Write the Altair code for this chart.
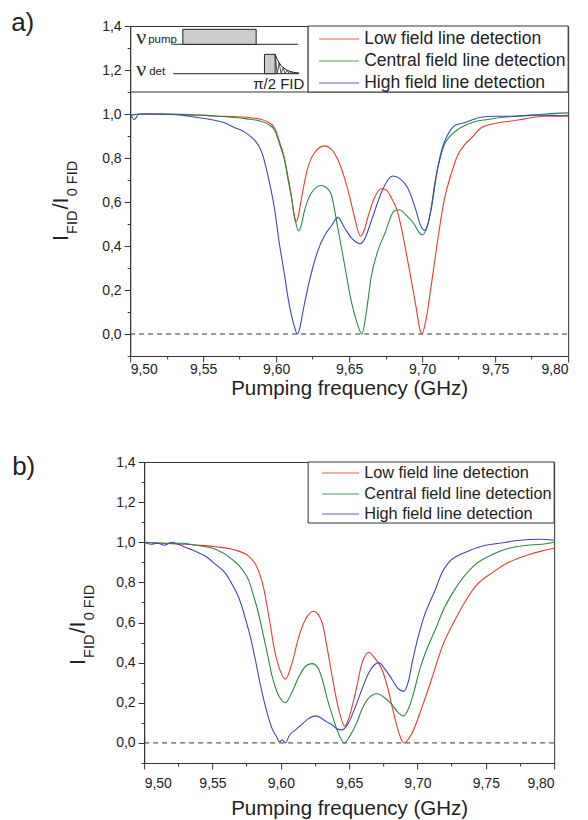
import math
import altair as alt
import pandas as pd

# ---------------- data ----------------
SERIES = ["Low field line detection", "Central field line detection", "High field line detection"]
COLORS = ["#ec3b2e", "#2b8a41", "#3b4ab3"]

X_MAJOR = [9.50, 9.55, 9.60, 9.65, 9.70, 9.75, 9.80]
X_MINOR = [9.525, 9.575, 9.625, 9.675, 9.725, 9.775]
Y_MAJOR = [0.0, 0.2, 0.4, 0.6, 0.8, 1.0, 1.2, 1.4]
Y_MINOR = [-0.1, 0.1, 0.3, 0.5, 0.7, 0.9, 1.1, 1.3]

# panel a) (frequency GHz, I_FID / I_0 FID)
A_LOW = [(9.500, 0.995), (9.510, 1.0), (9.520, 1.0), (9.530, 0.998), (9.540, 0.995), (9.550, 0.993),
         (9.560, 0.99), (9.570, 0.988), (9.580, 0.985), (9.588, 0.978), (9.594, 0.965), (9.599, 0.935),
         (9.6025, 0.87), (9.6057, 0.80), (9.6085, 0.70), (9.6105, 0.625), (9.612, 0.55), (9.6135, 0.51),
         (9.6150, 0.53), (9.617, 0.605), (9.6217, 0.756), (9.6263, 0.824), (9.633, 0.855), (9.6377, 0.84),
         (9.642, 0.795), (9.6468, 0.71), (9.6505, 0.62), (9.6537, 0.53), (9.6577, 0.445), (9.6605, 0.475),
         (9.6628, 0.53), (9.6674, 0.62), (9.672, 0.66), (9.6755, 0.655), (9.6788, 0.62), (9.683, 0.56),
         (9.6865, 0.46), (9.6902, 0.33), (9.6935, 0.21), (9.6959, 0.12), (9.6985, 0.02), (9.6998, 0.0),
         (9.7025, 0.06), (9.706, 0.21), (9.7105, 0.42), (9.715, 0.605), (9.720, 0.73), (9.7245, 0.815),
         (9.729, 0.86), (9.7336, 0.89), (9.740, 0.935), (9.745, 0.95), (9.752, 0.96), (9.761, 0.968),
         (9.770, 0.978), (9.784, 0.99), (9.792, 0.99), (9.800, 0.995)]
A_CEN = [(9.500, 0.995), (9.510, 1.0), (9.520, 1.0), (9.530, 1.0), (9.540, 0.998), (9.550, 0.995),
         (9.560, 0.99), (9.570, 0.985), (9.580, 0.978), (9.588, 0.97), (9.594, 0.955), (9.599, 0.925),
         (9.6025, 0.86), (9.6057, 0.79), (9.6085, 0.69), (9.6105, 0.62), (9.613, 0.52), (9.6153, 0.468),
         (9.617, 0.49), (9.619, 0.55), (9.624, 0.64), (9.6308, 0.675), (9.6345, 0.665), (9.6377, 0.635),
         (9.6422, 0.483), (9.6468, 0.317), (9.6514, 0.15), (9.655, 0.06), (9.6587, 0.0), (9.662, 0.11),
         (9.665, 0.256), (9.6696, 0.377), (9.6742, 0.453), (9.681, 0.56), (9.6845, 0.565), (9.689, 0.54),
         (9.6947, 0.498), (9.6975, 0.465), (9.7003, 0.45), (9.7035, 0.49), (9.7062, 0.574), (9.7085, 0.68),
         (9.713, 0.817), (9.7153, 0.862), (9.720, 0.905), (9.7245, 0.93), (9.730, 0.95), (9.736, 0.965),
         (9.745, 0.975), (9.755, 0.985), (9.765, 0.99), (9.775, 0.995), (9.785, 1.0), (9.800, 1.005)]
A_HIGH = [(9.500, 1.0), (9.503, 0.975), (9.506, 1.0), (9.515, 1.0), (9.525, 0.998), (9.535, 0.995),
          (9.545, 0.985), (9.555, 0.975), (9.5646, 0.96), (9.571, 0.94), (9.578, 0.92), (9.583, 0.895),
          (9.5874, 0.862), (9.5905, 0.82), (9.5931, 0.756), (9.596, 0.67), (9.5988, 0.574), (9.602, 0.42),
          (9.6057, 0.271), (9.608, 0.17), (9.6103, 0.09), (9.6125, 0.035), (9.6145, 0.0), (9.6165, 0.035),
          (9.618, 0.09), (9.6217, 0.21), (9.625, 0.30), (9.6285, 0.377), (9.633, 0.445), (9.6377, 0.49),
          (9.6423, 0.53), (9.6468, 0.483), (9.6514, 0.438), (9.6577, 0.41), (9.6605, 0.43), (9.665, 0.51),
          (9.6719, 0.64), (9.6765, 0.70), (9.680, 0.718), (9.685, 0.705), (9.690, 0.665), (9.6959, 0.56),
          (9.6985, 0.50), (9.7016, 0.471), (9.704, 0.50), (9.706, 0.56), (9.7107, 0.756), (9.714, 0.85),
          (9.7176, 0.907), (9.723, 0.95), (9.729, 0.96), (9.740, 0.985), (9.750, 0.99), (9.760, 0.99),
          (9.780, 0.995), (9.800, 0.99)]

# panel b)
B_LOW = [(9.500, 1.0), (9.515, 0.995), (9.530, 0.99), (9.541, 0.985), (9.5522, 0.978), (9.5644, 0.965),
         (9.5766, 0.93), (9.5815, 0.89), (9.5851, 0.83), (9.5875, 0.77), (9.590, 0.68), (9.5925, 0.58),
         (9.5949, 0.48), (9.5985, 0.38), (9.6034, 0.318), (9.6083, 0.40), (9.6132, 0.53), (9.618, 0.615),
         (9.6241, 0.656), (9.6302, 0.60), (9.634, 0.47), (9.6376, 0.33), (9.6424, 0.165), (9.6468, 0.085),
         (9.6505, 0.14), (9.6546, 0.25), (9.6595, 0.40), (9.6644, 0.452), (9.669, 0.42), (9.6741, 0.365),
         (9.678, 0.28), (9.6815, 0.18), (9.6864, 0.05), (9.690, 0.0), (9.6961, 0.05), (9.7034, 0.18),
         (9.7095, 0.30), (9.7156, 0.43), (9.7181, 0.48), (9.7265, 0.60), (9.7345, 0.70), (9.7424, 0.78),
         (9.755, 0.85), (9.7668, 0.90), (9.780, 0.935), (9.7912, 0.957), (9.800, 0.97)]
B_CEN = [(9.500, 1.0), (9.515, 0.995), (9.5278, 0.995), (9.5375, 0.985), (9.5522, 0.965), (9.5644, 0.915),
         (9.5717, 0.865), (9.5765, 0.81), (9.5802, 0.73), (9.5835, 0.65), (9.5863, 0.565), (9.590, 0.45),
         (9.5937, 0.33), (9.5985, 0.235), (9.6034, 0.2), (9.608, 0.25), (9.6132, 0.33), (9.6185, 0.385),
         (9.6229, 0.395), (9.627, 0.375), (9.6302, 0.32), (9.634, 0.22), (9.638, 0.13), (9.642, 0.05),
         (9.6465, 0.0), (9.651, 0.04), (9.6555, 0.10), (9.6595, 0.17), (9.6645, 0.225), (9.6705, 0.245),
         (9.676, 0.225), (9.6815, 0.19), (9.686, 0.15), (9.690, 0.135), (9.694, 0.18), (9.698, 0.27),
         (9.701, 0.35), (9.707, 0.47), (9.7131, 0.565), (9.7181, 0.65), (9.7278, 0.77), (9.7424, 0.89),
         (9.755, 0.94), (9.7668, 0.97), (9.780, 0.985), (9.7912, 0.99), (9.800, 1.0)]
B_HIGH = [(9.500, 1.0), (9.505, 0.99), (9.510, 0.995), (9.515, 0.985), (9.520, 1.0), (9.525, 0.99),
          (9.530, 0.975), (9.5375, 0.955), (9.545, 0.93), (9.5522, 0.89), (9.5595, 0.845), (9.5644, 0.79),
          (9.5695, 0.72), (9.5741, 0.62), (9.578, 0.52), (9.5815, 0.41), (9.585, 0.29), (9.5888, 0.18),
          (9.5937, 0.07), (9.597, 0.03), (9.599, 0.005), (9.601, 0.015), (9.6035, 0.0), (9.606, 0.035),
          (9.6107, 0.065), (9.615, 0.09), (9.620, 0.12), (9.6255, 0.135), (9.6278, 0.13), (9.6335, 0.105),
          (9.6376, 0.09), (9.641, 0.07), (9.6449, 0.065), (9.6495, 0.10), (9.6546, 0.18), (9.6595, 0.27),
          (9.6644, 0.35), (9.6717, 0.40), (9.677, 0.36), (9.6815, 0.315), (9.686, 0.27), (9.690, 0.257),
          (9.6935, 0.31), (9.6961, 0.40), (9.7034, 0.60), (9.7131, 0.765), (9.7181, 0.85), (9.7229, 0.90),
          (9.730, 0.935), (9.7376, 0.957), (9.7468, 0.98), (9.760, 0.995), (9.775, 1.01), (9.790, 1.015),
          (9.800, 1.01)]

# ---------------- helpers ----------------
FONT = "Liberation Sans"
SERIF = "Liberation Serif"
INK = "#222222"
AXC = "#333333"
ONE = pd.DataFrame({"k": [0]})


def series_df(points, name):
    return pd.DataFrame({"f": [p[0] for p in points], "v": [p[1] for p in points], "s": name})


def txt(text, x, y, size, font=FONT, angle=0, align="left", baseline="alphabetic"):
    kw = dict(text=text, fontSize=size, font=font, align=align, baseline=baseline, color=INK)
    if angle:
        kw["angle"] = angle
    return alt.Chart(ONE).mark_text(**kw).encode(x=alt.value(x), y=alt.value(y))


def rule_px(x1, x2, y1, y2, color=INK, width=1.0, opacity=1.0):
    return alt.Chart(ONE).mark_rule(color=color, strokeWidth=width, opacity=opacity).encode(
        x=alt.value(x1), x2=alt.value(x2), y=alt.value(y1), y2=alt.value(y2))


def rect_px(x1, x2, y1, y2, fill="white", stroke=INK, width=1.0):
    return alt.Chart(ONE).mark_rect(fill=fill, stroke=stroke, strokeWidth=width).encode(
        x=alt.value(x1), x2=alt.value(x2), y=alt.value(y1), y2=alt.value(y2))


def y_title(xb, xs, y0, big=22, small=14.5):
    w_i = 0.278 * big
    w_fid = 1.611 * small
    w_si = 0.556 * big
    return [
        txt("I", xb, y0, big, angle=270),
        txt("FID", xs, y0 - w_i - 1, small, angle=270),
        txt("/I", xb, y0 - w_i - 2 - w_fid, big, angle=270),
        txt("0 FID", xs, y0 - w_i - 3 - w_fid - w_si, small, angle=270),
    ]


def legend(x_box, h_box, w, rows_y, lx1, lx2, tx, fsize):
    lay = [rect_px(x_box, w, 0, h_box, fill="white", stroke=AXC)]
    for name, col, ry in zip(SERIES, COLORS, rows_y):
        lay.append(rule_px(lx1, lx2, ry, ry, color=col, width=1.0, opacity=0.85))
        lay.append(txt(name, tx, ry, fsize, baseline="middle"))
    return lay


XLAB = "replace(format(datum.value, '.2f'), '.', ',')"
YLAB = "replace(format(datum.value, '.1f'), '.', ',')"


def panel(parts, w, h, label, lab_x, lab_y, lab_pad, title_pad, extra):
    xs = alt.Scale(domain=[9.5, 9.8], nice=False, zero=False)
    ys = alt.Scale(domain=[-0.1, 1.4], nice=False, zero=False)
    layers = list(extra)
    # dashed zero line, carrying the minor ticks
    zero = alt.Chart(pd.DataFrame({"x0": [9.5], "x1": [9.8], "y0": [0.0]})).mark_rule(
        color=AXC, strokeDash=[5, 4], strokeWidth=1).encode(
        x=alt.X("x0:Q", scale=xs, axis=alt.Axis(values=X_MINOR, labels=False, domain=False,
                                                 tickSize=3, title=None, orient="bottom", grid=False)),
        x2=alt.X2("x1:Q"),
        y=alt.Y("y0:Q", scale=ys, axis=alt.Axis(values=Y_MINOR, labels=False, domain=False,
                                                 tickSize=3, title=None, orient="left", grid=False)))
    layers.append(zero)
    for i, (pts, name, col) in enumerate(parts):
        df = series_df(pts, name)
        if i == 0:
            xe = alt.X("f:Q", scale=xs, axis=alt.Axis(
                values=X_MAJOR, labelExpr=XLAB, tickSize=6, labelPadding=lab_pad,
                title="Pumping frequency (GHz)", titleFontSize=20.5, titlePadding=title_pad,
                titleFontWeight="normal", orient="bottom", grid=False))
            ye = alt.Y("v:Q", scale=ys, axis=alt.Axis(
                values=Y_MAJOR, labelExpr=YLAB, tickSize=6, labelPadding=3, title=None,
                orient="left", grid=False))
        else:
            xe = alt.X("f:Q", scale=xs, axis=None)
            ye = alt.Y("v:Q", scale=ys, axis=None)
        layers.append(alt.Chart(df).mark_line(color=col, strokeWidth=1.1, interpolate="monotone")
                      .encode(x=xe, y=ye))
    layers.append(txt(label, lab_x, lab_y, 26))
    return alt.layer(*layers).properties(width=w, height=h).resolve_axis(x="independent", y="independent")


# ---------------- panel a inset (pulse scheme) ----------------
fid_rows = []
for k in range(13):
    env = 47.7 - 19.4 * math.exp(-2 * k / 7)
    fid_rows.append({"px": 145 + 2 * k, "py": env if k % 2 == 0 else 47.7, "o": k, "env": env})
fid_df = pd.DataFrame(fid_rows)
fid_zig = alt.Chart(fid_df).mark_line(color=INK, strokeWidth=0.8).encode(
    x=alt.X("px:Q", scale=None, axis=None), y=alt.Y("py:Q", scale=None, axis=None), order="o:Q")
fid_env = alt.Chart(fid_df).mark_line(color=INK, strokeWidth=1).encode(
    x=alt.X("px:Q", scale=None, axis=None), y=alt.Y("env:Q", scale=None, axis=None), order="o:Q")

W_A, H_A = 438, 330
inset_a = [
    rule_px(0, W_A, 66, 66, color=AXC),
    rule_px(178, 178, 0, 66, color=AXC),
    rule_px(43, 168, 18.3, 18.3),
    rect_px(52.7, 126, 3.3, 18.3, fill="#cccccc"),
    txt("\u03bd", 6, 18, 22, font=SERIF),
    txt("pump", 18, 16.5, 11.5),
    rule_px(43, 168, 47.7, 47.7),
    rect_px(134.3, 145, 28.3, 47.7, fill="#cccccc"),
    fid_zig, fid_env,
    txt("\u03bd", 6, 50, 22, font=SERIF),
    txt("det", 19, 49, 11.5),
    txt("\u03c0/2 FID", 123, 63, 15),
]
legend_a = legend(178, 66, W_A, [13, 35, 57], 189, 229, 234, 17.5)
extra_a = inset_a + legend_a + y_title(-62, -53, 215)

W_B, H_B = 410, 301
legend_b = legend(164, 61, W_B, [11, 32, 52], 178, 215, 220, 16.3)
extra_b = legend_b + y_title(-59, -50, 203)

panel_a = panel([(A_LOW, SERIES[0], COLORS[0]), (A_CEN, SERIES[1], COLORS[1]), (A_HIGH, SERIES[2], COLORS[2])],
                W_A, H_A, "a)", -119, 5, 0, 2, extra_a)
panel_b = panel([(B_LOW, SERIES[0], COLORS[0]), (B_CEN, SERIES[1], COLORS[1]), (B_HIGH, SERIES[2], COLORS[2])],
                W_B, H_B, "b)", -132, 12.5, 7, 8, extra_b)

chart = alt.vconcat(panel_a, panel_b, spacing=54, center=True).properties(
    padding={"left": 2, "top": 1, "right": 0, "bottom": 0}, background="white"
).configure_view(stroke=AXC, strokeWidth=1).configure_axis(
    domainColor=AXC, tickColor=AXC, labelColor=INK, labelFont=FONT, labelFontSize=14,
    titleFont=FONT, titleColor=INK, titleFontWeight="normal", grid=False
)

chart.save("out.html", embed_options={"renderer": "svg", "actions": False})
